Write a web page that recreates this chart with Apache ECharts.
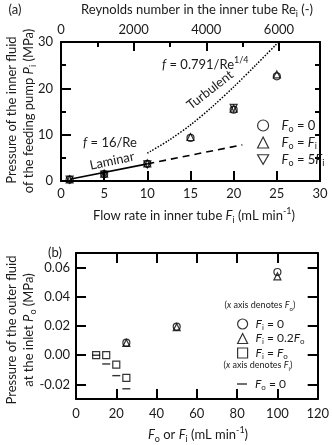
<!DOCTYPE html>
<html>
<head>
<meta charset="utf-8">
<script src="https://cdn.jsdelivr.net/npm/echarts@6/dist/echarts.min.js"></script>
<style>
  html, body { margin: 0; padding: 0; background: #fff; }
  #chart { width: 332px; height: 445px; }
</style>
</head>
<body>
<div id="chart"></div>
<script>
// ---- panel (a): pressure of the inner fluid vs flow rate ----
var flowRate = [1, 5, 10, 15, 20, 25];
var pressFo0 = [0.3, 1.5, 3.7, 9.3, 15.4, 22.6];
var pressFoFi = [0.35, 1.6, 3.8, 9.5, 15.6, 23.0];
var flowRateDown = [1, 5, 10, 20];
var pressFo5Fi = [0.3, 1.4, 3.6, 15.8];
var laminarF = [1, 10];
var laminarP = [0.37, 3.7];
var laminarExtF = [10, 21];
var laminarExtP = [3.7, 7.8];
var turbulentF = [10, 12.5, 15, 17.5, 20, 22.5, 25.2];
var turbulentP = [6.0, 8.8, 12.1, 16.0, 20.3, 24.9, 30.0];
var reMax = 7130; // Re at 30 mL/min
var reLabels = [0, 2000, 4000, 6000];
var reMajorTicks = [2000, 4000, 6000];
var reMinorTicks = [1000, 3000, 5000];

// ---- panel (b): pressure of the outer fluid ----
var outerFlow = [25, 50, 100];
var pressFi0 = [0.0086, 0.0196, 0.057];
var pressFi02 = [0.0084, 0.0192, 0.054];
var equalFlow = [10, 15, 20, 25];
var pressFiFo = [0.0, 0.0, -0.0065, -0.0155];
var innerFlow = [10, 15, 20, 25];
var pressFo0b = [0.0, -0.006, -0.014, -0.023];
var outerTicks = [-0.02, 0, 0.02, 0.04, 0.06];

var FONT = 'Lato';
var INK = '#1a1a1a';

function pairs(xs, ys) {
  return xs.map(function (x, i) { return [x, ys[i]]; });
}

function rich(size, lh) {
  var s = Math.round(size * 0.68);
  lh = lh || size + 5;
  return {
    t: { fontSize: size, lineHeight: lh, fontFamily: FONT, color: INK },
    i: { fontSize: size, lineHeight: lh, fontFamily: FONT, fontStyle: 'italic', color: INK },
    s: { fontSize: s, lineHeight: s, fontFamily: FONT, verticalAlign: 'bottom', color: INK },
    p: { fontSize: s, lineHeight: s, fontFamily: FONT, verticalAlign: 'top', color: INK }
  };
}

function label(x, y, text, opts) {
  opts = opts || {};
  return {
    type: 'text',
    x: x,
    y: y,
    rotation: opts.rotation || 0,
    style: {
      text: text,
      rich: rich(opts.size || 13),
      fill: INK,
      font: (opts.size || 13) + 'px ' + FONT,
      align: opts.align || 'center',
      verticalAlign: 'middle'
    }
  };
}

var lineBlack = { color: '#000', width: 2 };
var hollow = { color: 'rgba(0,0,0,0)', borderColor: '#000', borderWidth: 1.2 };
var downTri = 'path://M0,0L10,0L5,8.66Z';
var axisText = { color: INK, fontSize: 13, fontFamily: FONT };
var frameLine = { onZero: false, lineStyle: lineBlack };

var myChart = echarts.init(document.getElementById('chart'));

var legendNames = {
  'Fo = 0': '{i|F}{s|o}{t| = 0}',
  'Fo = Fi': '{i|F}{s|o}{t| = }{i|F}{s|i}',
  'Fo = 5Fi': '{i|F}{s|o}{t| = 5}{i|F}{s|i}',
  'Fi = 0': '{i|F}{s|i}{t| = 0}',
  'Fi = 0.2Fo': '{i|F}{s|i}{t| = 0.2}{i|F}{s|o}',
  'Fi = Fo': '{i|F}{s|i}{t| = }{i|F}{s|o}',
  'Fo = 0 (b)': '{i|F}{s|o}{t| = 0}'
};
function legendFormatter(name) { return legendNames[name]; }

var option = {
  animation: false,
  backgroundColor: '#fff',
  grid: [
    { left: 61, top: 42, width: 259, height: 139 },
    { left: 76, top: 253, width: 244, height: 146 }
  ],
  xAxis: [
    {
      gridIndex: 0, type: 'value', position: 'bottom', min: 0, max: 30, interval: 5,
      axisLine: frameLine,
      axisTick: { inside: true, length: 10, lineStyle: lineBlack },
      axisLabel: Object.assign({ margin: 6 }, axisText),
      splitLine: { show: false }
    },
    {
      gridIndex: 0, type: 'value', position: 'top', min: 0, max: reMax,
      axisLine: frameLine,
      axisTick: { inside: true, length: 9, customValues: reMajorTicks, lineStyle: lineBlack },
      axisLabel: Object.assign({
        margin: 6, customValues: reLabels,
        formatter: function (v) { return String(v); }
      }, axisText),
      splitLine: { show: false }
    },
    {
      gridIndex: 0, type: 'value', position: 'top', min: 0, max: reMax,
      axisLine: { show: false, onZero: false },
      axisTick: { inside: true, length: 5, customValues: reMinorTicks, lineStyle: lineBlack },
      axisLabel: { show: false },
      splitLine: { show: false }
    },
    {
      gridIndex: 1, type: 'value', position: 'bottom', min: 0, max: 120, interval: 20,
      axisLine: frameLine,
      axisTick: { inside: true, length: 10, lineStyle: lineBlack },
      axisLabel: Object.assign({ margin: 8 }, axisText),
      splitLine: { show: false }
    },
    {
      gridIndex: 1, type: 'value', position: 'top', min: 0, max: 120, interval: 20,
      axisLine: frameLine,
      axisTick: { inside: true, length: 10, lineStyle: lineBlack },
      axisLabel: { show: false },
      splitLine: { show: false }
    }
  ],
  yAxis: [
    {
      gridIndex: 0, type: 'value', position: 'left', min: 0, max: 30, interval: 10,
      axisLine: frameLine,
      axisTick: { inside: true, length: 10, lineStyle: lineBlack },
      minorTick: { show: true, splitNumber: 2, length: 5, lineStyle: lineBlack },
      axisLabel: Object.assign({ margin: 8 }, axisText),
      splitLine: { show: false }
    },
    {
      gridIndex: 0, type: 'value', position: 'right', min: 0, max: 30, interval: 5,
      axisLine: frameLine,
      axisTick: { inside: true, length: 5, lineStyle: lineBlack },
      axisLabel: { show: false },
      splitLine: { show: false }
    },
    {
      gridIndex: 1, type: 'value', position: 'left', min: -0.03, max: 0.07,
      axisLine: frameLine,
      axisTick: { inside: true, length: 10, customValues: outerTicks, lineStyle: lineBlack },
      axisLabel: Object.assign({
        margin: 6, customValues: outerTicks,
        formatter: function (v) { return v.toFixed(2); }
      }, axisText),
      splitLine: { show: false }
    },
    {
      gridIndex: 1, type: 'value', position: 'right', min: -0.03, max: 0.07,
      axisLine: frameLine,
      axisTick: { inside: true, length: 10, customValues: outerTicks, lineStyle: lineBlack },
      axisLabel: { show: false },
      splitLine: { show: false }
    }
  ],
  legend: [
    {
      data: ['Fo = 0', 'Fo = Fi', 'Fo = 5Fi'],
      orient: 'vertical', left: 252, top: 114,
      itemWidth: 11, itemHeight: 11, itemGap: 2.5,
      selectedMode: false,
      itemStyle: hollow,
      formatter: legendFormatter,
      textStyle: { fontSize: 13, fontFamily: FONT, color: INK, padding: [0, 0, 0, 8], rich: rich(13, 16) }
    },
    {
      data: ['Fi = 0', 'Fi = 0.2Fo', 'Fi = Fo'],
      orient: 'vertical', left: 232, top: 313,
      itemWidth: 10, itemHeight: 10, itemGap: 1.5,
      selectedMode: false,
      itemStyle: hollow,
      formatter: legendFormatter,
      textStyle: { fontSize: 12, fontFamily: FONT, color: INK, padding: [0, 0, 0, 3], rich: rich(12, 14) }
    },
    {
      data: [{ name: 'Fo = 0 (b)', icon: 'path://M0,0H10V1.4H0Z' }],
      orient: 'vertical', left: 232, top: 373,
      itemWidth: 10, itemHeight: 10,
      selectedMode: false,
      itemStyle: { color: '#000', borderWidth: 0 },
      formatter: legendFormatter,
      textStyle: { fontSize: 12, fontFamily: FONT, color: INK, padding: [0, 0, 0, 3], rich: rich(12, 14) }
    }
  ],
  series: [
    { name: 'Fo = 0', type: 'scatter', xAxisIndex: 0, yAxisIndex: 0, symbol: 'circle', symbolSize: 7,
      itemStyle: hollow, data: pairs(flowRate, pressFo0) },
    { name: 'Fo = Fi', type: 'scatter', xAxisIndex: 0, yAxisIndex: 0, symbol: 'triangle', symbolSize: 7,
      itemStyle: hollow, data: pairs(flowRate, pressFoFi) },
    { name: 'Fo = 5Fi', type: 'scatter', xAxisIndex: 0, yAxisIndex: 0, symbol: downTri, symbolSize: 7,
      itemStyle: hollow, data: pairs(flowRateDown, pressFo5Fi) },
    { name: 'laminar', type: 'line', xAxisIndex: 0, yAxisIndex: 0, symbol: 'none', silent: true,
      lineStyle: { color: '#000', width: 1.6 }, data: pairs(laminarF, laminarP) },
    { name: 'laminar-ext', type: 'line', xAxisIndex: 0, yAxisIndex: 0, symbol: 'none', silent: true,
      lineStyle: { color: '#000', width: 1.6, type: [7, 5] }, data: pairs(laminarExtF, laminarExtP) },
    { name: 'turbulent', type: 'line', xAxisIndex: 0, yAxisIndex: 0, symbol: 'none', silent: true, smooth: 0.3,
      lineStyle: { color: '#000', width: 1.5, type: [1.5, 1.5] }, data: pairs(turbulentF, turbulentP) },

    { name: 'Fi = 0', type: 'scatter', xAxisIndex: 3, yAxisIndex: 2, symbol: 'circle', symbolSize: 7,
      itemStyle: hollow, data: pairs(outerFlow, pressFi0) },
    { name: 'Fi = 0.2Fo', type: 'scatter', xAxisIndex: 3, yAxisIndex: 2, symbol: 'triangle', symbolSize: 7,
      itemStyle: hollow, data: pairs(outerFlow, pressFi02) },
    { name: 'Fi = Fo', type: 'scatter', xAxisIndex: 3, yAxisIndex: 2, symbol: 'rect', symbolSize: 7,
      itemStyle: hollow, data: pairs(equalFlow, pressFiFo) },
    { name: 'Fo = 0 (b)', type: 'scatter', xAxisIndex: 3, yAxisIndex: 2, symbol: 'rect', symbolSize: [8, 1.4],
      itemStyle: { color: '#000' }, data: pairs(innerFlow, pressFo0b) }
  ],
  graphic: [
    label(15, 10, '{t|(a)}'),
    label(197, 10, '{t|Reynolds number in the inner tube Re}{s|i}{t| (-)}'),
    label(12, 110, '{t|Pressure of the inner fluid}', { rotation: Math.PI / 2 }),
    label(29, 111, '{t|of the feeding pump }{i|P}{s|i}{t| (MPa)}', { rotation: Math.PI / 2 }),
    label(194, 216, '{t|Flow rate in inner tube }{i|F}{s|i}{t| (mL min}{p|-1}{t|)}'),
    label(110, 143, '{i|f}{t| = 16/Re}'),
    label(112, 161, '{t|Laminar}', { rotation: 12 * Math.PI / 180 }),
    label(162, 65, '{i|f}{t| = 0.791/Re}{p|1/4}', { align: 'left' }),
    label(210, 90, '{t|Turbulent}', { rotation: 38 * Math.PI / 180 }),

    label(55, 253, '{t|(b)}'),
    label(12, 330, '{t|Pressure of the outer fluid}', { rotation: Math.PI / 2 }),
    label(29, 330, '{t|at the inlet }{i|P}{s|o}{t| (MPa)}', { rotation: Math.PI / 2 }),
    label(198, 435, '{i|F}{s|o}{t| or }{i|F}{s|i}{t| (mL min}{p|-1}{t|)}'),
    label(260, 305, '{t|(}{i|x}{t| axis denotes }{i|F}{s|o}{t|)}', { size: 9 }),
    label(258, 365, '{t|(}{i|x}{t| axis denotes }{i|F}{s|i}{t|)}', { size: 9 })
  ]
};

myChart.setOption(option);
</script>
</body>
</html>
